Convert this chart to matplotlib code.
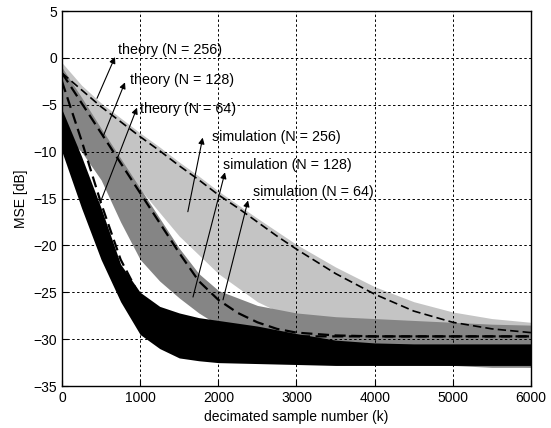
import numpy as np
import matplotlib
matplotlib.use('Agg')
import matplotlib.pyplot as plt

plt.rcParams['font.family'] = ['Liberation Sans', 'DejaVu Sans']
plt.rcParams['font.size'] = 10

# theory curves (dB)
k_th = [0, 250, 500, 750, 1000, 1250, 1500, 1750, 2000, 2250, 2500, 2750, 3000,
        3500, 4000, 4500, 5000, 5500, 6000]
th_256 = [-1.6, -3.4, -5.2, -6.8, -8.4, -9.9, -11.5, -13.0, -14.6, -16.0, -17.5, -19.0, -20.4,
          -23.0, -25.2, -27.0, -28.2, -28.9, -29.3]
th_128 = [-1.6, -4.8, -8.0, -11.2, -14.4, -17.6, -20.8, -23.8, -25.8, -27.2, -28.2, -28.9, -29.3,
          -29.6, -29.7, -29.7, -29.7, -29.7, -29.7]
th_64 = [-2.5, -8.8, -15.5, -21.5, -25.5, -27.6, -28.7, -29.2, -29.45, -29.6, -29.65, -29.7, -29.7,
         -29.7, -29.7, -29.7, -29.7, -29.7, -29.7]

# simulation envelopes (upper / lower, dB)
k_sim = [0, 250, 500, 750, 1000, 1250, 1500, 1750, 2000, 2500, 3000, 3500, 4000, 4500, 5000, 5500, 6000]
sim256_hi = [-0.5, -2.9, -4.8, -6.4, -8.0, -9.5, -11.1, -12.6, -14.2, -17.1, -19.9, -22.3, -24.4,
             -26.0, -27.1, -27.8, -28.2]
sim256_lo = [-8.0, -9.5, -11.0, -12.5, -14.0, -16.5, -19.0, -21.0, -23.0, -26.0, -28.0, -29.5, -30.5,
             -31.5, -32.2, -32.6, -33.0]
sim128_hi = [-1.0, -4.2, -7.5, -10.7, -13.9, -17.1, -20.3, -23.0, -24.8, -26.4, -27.2, -27.6, -27.8,
             -28.0, -28.2, -28.4, -28.5]
sim128_lo = [-8.0, -10.0, -13.0, -17.5, -21.5, -23.8, -25.6, -27.2, -28.5, -30.5, -31.8, -32.2, -32.5,
             -32.7, -32.8, -33.0, -33.0]
sim64_hi = [-5.5, -10.5, -16.0, -22.0, -25.0, -26.5, -27.2, -27.7, -28.0, -28.6, -29.4, -30.1, -30.4,
            -30.5, -30.5, -30.5, -30.5]
sim64_lo = [-10.0, -16.0, -21.5, -26.0, -29.5, -31.0, -32.0, -32.3, -32.5, -32.6, -32.7, -32.8, -32.8,
            -32.8, -32.8, -32.8, -32.8]

fig, ax = plt.subplots(figsize=(5.51, 4.28), dpi=100)
fig.subplots_adjust(left=0.1125, right=0.9637, bottom=0.098, top=0.974)

ax.fill_between(k_sim, sim256_lo, sim256_hi, color='#c4c4c4', lw=0, zorder=1)
ax.fill_between(k_sim, sim128_lo, sim128_hi, color='#858585', lw=0, zorder=2)
ax.fill_between(k_sim, sim64_lo, sim64_hi, color='#000000', lw=0, zorder=3)

ax.plot(k_th, th_256, color='black', ls=(0, (5, 2.5)), lw=1.2, zorder=4)
ax.plot(k_th, th_128, color='black', ls=(0, (5, 2.5)), lw=1.6, zorder=4)
ax.plot(k_th, th_64, color='black', ls=(0, (5, 2.5)), lw=1.6, zorder=4)

labels = [
    ('theory (N = 256)', (716, 0.85), (678, 0.1), (448, -4.3)),
    ('theory (N = 128)', (870, -2.35), (806, -2.6), (525, -8.4)),
    ('theory (N = 64)', (1000, -5.4), (960, -5.3), (486, -15.5)),
    ('simulation (N = 256)', (1920, -8.4), (1800, -8.5), (1610, -16.4)),
    ('simulation (N = 128)', (2060, -11.4), (2085, -12.2), (1676, -25.5)),
    ('simulation (N = 64)', (2440, -14.3), (2380, -15.2), (2060, -25.8)),
]
for txt, pos, head, tail in labels:
    ax.text(pos[0], pos[1], txt, ha='left', va='center', fontsize=10.3, zorder=6)
    ax.annotate('', xy=head, xytext=tail,
                arrowprops=dict(arrowstyle='-|>', color='black', lw=0.8,
                                mutation_scale=9, shrinkA=0, shrinkB=0), zorder=6)

ax.set_xlim(0, 6000)
ax.set_ylim(-35, 5)
ax.set_xticks(range(0, 6001, 1000))
ax.set_yticks(range(-35, 6, 5))
ax.tick_params(direction='in', length=4, labelsize=10)
ax.grid(True, color='black', ls=(0, (2.5, 2.5)), lw=0.7)
ax.set_axisbelow(False)
for s in ax.spines.values():
    s.set_linewidth(1.0)
    s.set_zorder(7)
ax.set_xlabel('decimated sample number (k)', fontsize=10)
ax.set_ylabel('MSE [dB]', fontsize=10)

fig.savefig('out.png', dpi=100)
